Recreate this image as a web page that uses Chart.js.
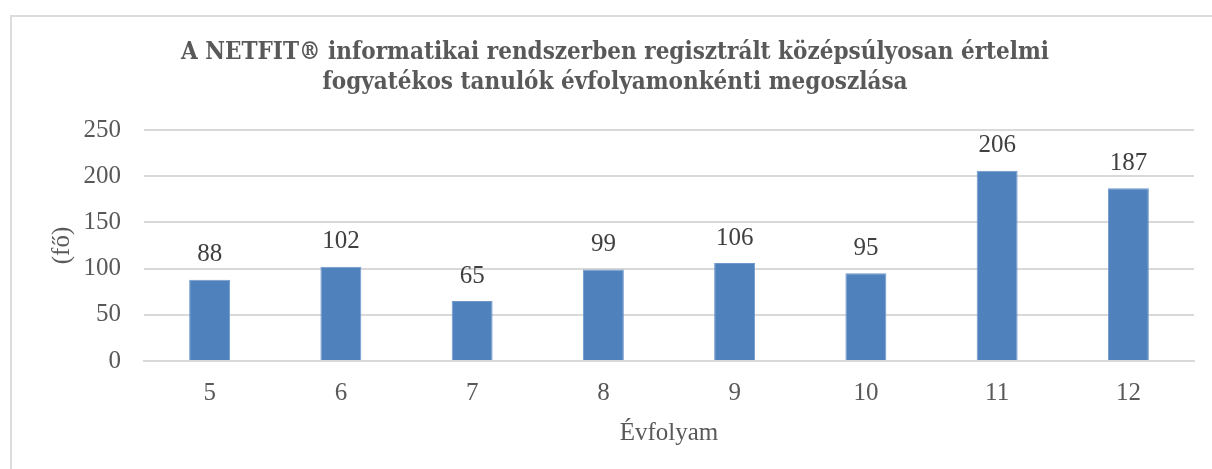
<!DOCTYPE html>
<html>
<head>
<meta charset="utf-8">
<script src="https://cdn.jsdelivr.net/npm/chart.js@4/dist/chart.umd.min.js"></script>
<style>
  html, body { margin: 0; padding: 0; background: #fff; }
  #frame { position: absolute; left: 10px; top: 15px; width: 1220px; height: 480px; border: 2px solid #dcdcdc; box-sizing: border-box; }
  #chart { position: absolute; left: 0; top: 0; }
</style>
</head>
<body>
<div id="frame"></div>
<canvas id="chart" width="1212" height="469"></canvas>
<script>
const categories = ['5', '6', '7', '8', '9', '10', '11', '12'];
const studentCounts = [88, 102, 65, 99, 106, 95, 206, 187];
const yTickValues = [0, 50, 100, 150, 200, 250];
const titleLines = [
    'A NETFIT® informatikai rendszerben regisztrált középsúlyosan értelmi',
    'fogyatékos tanulók évfolyamonkénti megoszlása'
];
const xTitle = 'Évfolyam';
const yTitle = '(fő)';

const textColor = '#595959';
const serif = "'Liberation Serif', serif";

// value labels above each bar
const barLabels = {
    id: 'barLabels',
    afterDatasetsDraw(chart) {
        const ctx = chart.ctx;
        const meta = chart.getDatasetMeta(0);
        ctx.save();
        ctx.font = '25px ' + serif;
        ctx.fillStyle = '#404040';
        ctx.textAlign = 'center';
        ctx.textBaseline = 'middle';
        meta.data.forEach((bar, i) => {
            ctx.fillText(String(studentCounts[i]), bar.x, bar.y - 25);
        });
        ctx.restore();
    }
};

const ctx = document.getElementById('chart').getContext('2d');
new Chart(ctx, {
    type: 'bar',
    data: {
        labels: categories,
        datasets: [{
            data: studentCounts,
            backgroundColor: '#4f81bd',
            borderColor: '#6f99cc',
            borderWidth: 1,
            barPercentage: 0.312,
            categoryPercentage: 1
        }]
    },
    options: {
        responsive: false,
        animation: false,
        layout: { padding: { left: 36, right: 18, top: 0, bottom: 0 } },
        plugins: {
            legend: { display: false },
            tooltip: { enabled: false },
            title: {
                display: true,
                text: titleLines,
                color: textColor,
                font: { family: "'DejaVu Serif Condensed', 'DejaVu Serif', serif", size: 24, weight: 'bold', lineHeight: 1.25 },
                padding: { top: 38, bottom: 32 }
            }
        },
        scales: {
            x: {
                grid: { display: false, drawTicks: false },
                border: { display: true, color: '#d9d9d9', width: 2 },
                ticks: { color: textColor, font: { family: serif, size: 25 }, padding: 17 },
                title: {
                    display: true,
                    text: xTitle,
                    color: textColor,
                    font: { family: serif, size: 25, lineHeight: 1.2 },
                    padding: { top: 0, bottom: 21 }
                },
                afterFit(scale) { scale.height = 108; }
            },
            y: {
                min: 0,
                max: 250,
                afterBuildTicks(scale) { scale.ticks = yTickValues.map(v => ({ value: v })); },
                grid: { color: '#d9d9d9', lineWidth: 2, drawTicks: false },
                border: { display: false },
                ticks: { color: textColor, font: { family: serif, size: 25 }, padding: 23 },
                title: {
                    display: true,
                    text: yTitle,
                    color: textColor,
                    font: { family: serif, size: 25, lineHeight: 1.2 },
                    padding: { top: 11, bottom: 0 }
                },
                afterFit(scale) { scale.width = 108; }
            }
        }
    },
    plugins: [barLabels]
});
</script>
</body>
</html>
